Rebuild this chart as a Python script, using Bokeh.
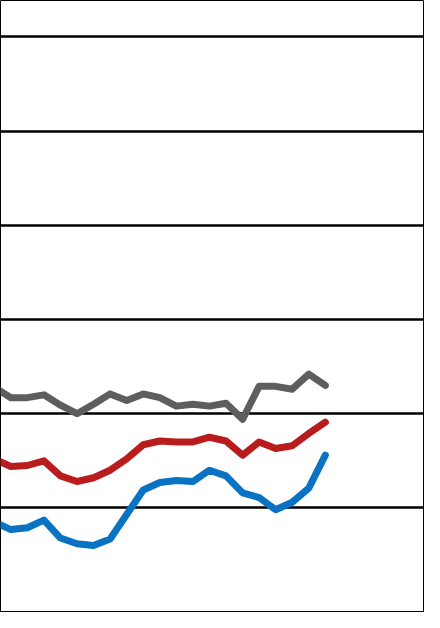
from bokeh.plotting import figure
from bokeh.models import Grid, FixedTicker, Range1d
from bokeh.embed import file_html
from bokeh.resources import INLINE

# Data (index along x, values in chart units; gridlines every 10)
x = list(range(21))
gray_vals = [22.8, 21.7, 21.7, 22.0, 20.9, 20.0, 21.0, 22.1, 21.4, 22.1, 21.7,
             20.8, 21.0, 20.8, 21.1, 19.4, 22.9, 22.9, 22.6, 24.2, 23.0]
red_vals = [15.2, 14.4, 14.5, 15.0, 13.4, 12.8, 13.2, 14.0, 15.2, 16.7, 17.1,
            17.0, 17.0, 17.5, 17.1, 15.6, 17.0, 16.3, 16.6, 17.9, 19.1]
blue_vals = [8.5, 7.7, 7.9, 8.7, 6.8, 6.2, 6.0, 6.7, 9.3, 11.9, 12.7,
             12.9, 12.8, 14.0, 13.4, 11.6, 11.1, 9.8, 10.6, 12.1, 15.6]
grid_ticks = [10, 20, 30, 40, 50, 60]

p = figure(width=424, height=612, output_backend="svg", toolbar_location=None,
           x_axis_location=None, y_axis_location=None,
           x_range=Range1d(0.378, 25.99), y_range=Range1d(-1.10, 63.85),
           min_border=0, background_fill_color="white", border_fill_color="white")
p.grid.visible = False
p.outline_line_color = "black"
p.outline_line_width = 1

p.add_layout(Grid(dimension=1, ticker=FixedTicker(ticks=grid_ticks),
                  grid_line_color="black", grid_line_width=2.5))

for vals, col in [(gray_vals, "#5e5e5e"), (red_vals, "#b91c1c"), (blue_vals, "#0a72c2")]:
    p.line(x, vals, line_color=col, line_width=7, line_join="round", line_cap="round")

open("out.html", "w").write(file_html(p, INLINE))
